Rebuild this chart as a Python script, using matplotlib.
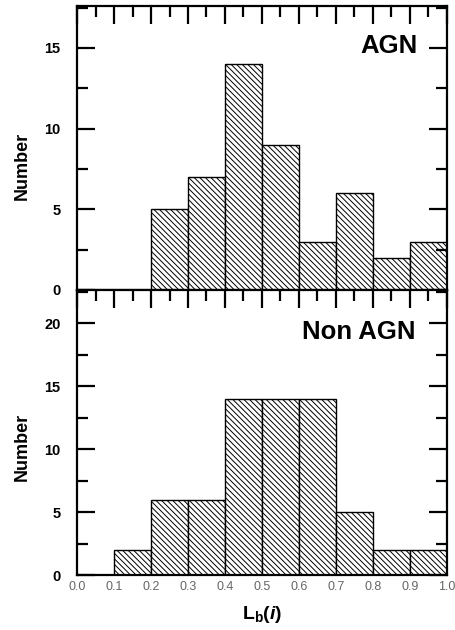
import matplotlib
matplotlib.use("Agg")
import matplotlib.pyplot as plt
from matplotlib.ticker import MultipleLocator

plt.rcParams['font.family'] = ['Liberation Sans', 'DejaVu Sans']
plt.rcParams['mathtext.fontset'] = 'custom'
plt.rcParams['mathtext.rm'] = 'Liberation Sans:bold'
plt.rcParams['mathtext.it'] = 'Liberation Sans:italic:bold'
plt.rcParams['mathtext.bf'] = 'Liberation Sans:bold'
plt.rcParams['hatch.linewidth'] = 0.7

bin_edges = [0.0, 0.1, 0.2, 0.3, 0.4, 0.5, 0.6, 0.7, 0.8, 0.9]
agn_counts = [0, 0, 5, 7, 14, 9, 3, 6, 2, 3]
nonagn_counts = [0, 2, 6, 6, 14, 14, 14, 5, 2, 2]
x_ticks = [0.0, 0.1, 0.2, 0.3, 0.4, 0.5, 0.6, 0.7, 0.8, 0.9, 1.0]
x_tick_labels = ["0.0", "0.1", "0.2", "0.3", "0.4", "0.5", "0.6", "0.7", "0.8", "0.9", "1.0"]

fig = plt.figure(figsize=(4.56, 6.3), dpi=100)
L, W = 0.169, 0.811
ax1 = fig.add_axes([L, 0.5397, W, 0.9905 - 0.5397])
ax2 = fig.add_axes([L, 0.0873, W, 0.5397 - 0.0873])

def style(ax, ymax, counts, label, lx, ly, labely):
    ax.bar(bin_edges, counts, width=0.1, align='edge', facecolor='white',
           edgecolor='black', linewidth=1.0, hatch='\\\\\\\\\\\\')
    ax.set_xlim(0, 1.0)
    ax.set_ylim(0, ymax)
    for s in ax.spines.values():
        s.set_linewidth(1.6)
    ax.xaxis.set_major_locator(MultipleLocator(0.1))
    ax.xaxis.set_minor_locator(MultipleLocator(0.05))
    ax.yaxis.set_major_locator(MultipleLocator(5))
    ax.yaxis.set_minor_locator(MultipleLocator(2.5))
    ax.tick_params(axis='x', which='both', direction='in', top=True, bottom=False, width=1.6)
    ax.tick_params(axis='x', which='major', length=13)
    ax.tick_params(axis='x', which='minor', length=8)
    ax.tick_params(axis='y', which='both', direction='in', left=True, right=True, width=1.6)
    ax.tick_params(axis='y', which='major', length=13, labelsize=10.5, pad=12)
    ax.tick_params(axis='y', which='minor', length=8)
    for t in ax.get_yticklabels():
        t.set_fontweight('bold')
    ax.text(lx, ly, label, ha='right', va='center', fontsize=18.5, fontweight='bold')
    ax.set_ylabel('Number', fontsize=13, fontweight='bold')
    ax.yaxis.set_label_coords(-0.125, labely)

style(ax1, 17.6, agn_counts, 'AGN', 0.922, 15.1, 0.437)
style(ax2, 22.65, nonagn_counts, 'Non AGN', 0.914, 19.3, 0.449)

ax1.tick_params(axis='x', labelbottom=False)
ax2.set_xticks(x_ticks)
ax2.set_xticklabels(x_tick_labels, fontsize=9, color='#666666')
ax2.tick_params(axis='x', which='both', labelbottom=True, pad=4)
ax2.set_xlabel(r'L$_\mathrm{b}$($\it{i}$)', fontsize=14, fontweight='bold', labelpad=8)

fig.savefig('out.png', dpi=100)
